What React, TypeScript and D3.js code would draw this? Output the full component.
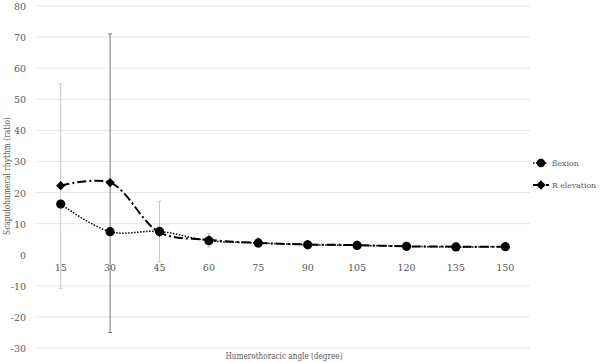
import React, { useRef, useEffect } from 'react';
import * as d3 from 'd3';

const angles = ['15', '30', '45', '60', '75', '90', '105', '120', '135', '150'];
const flexion = [16.3, 7.4, 7.5, 4.5, 3.8, 3.2, 3.0, 2.7, 2.5, 2.6];
const elevation = [22.2, 23.2, 7.2, 4.8, 3.8, 3.3, 3.1, 2.7, 2.6, 2.6];
// error bars (low, high) drawn on a few angles
const errAngles = ['15', '30', '45', '60', '75'];
const errLow = [-10.8, -25, -2.2, 2.5, 2.3];
const errHigh = [55, 71, 17.2, 6.8, 5.4];
const errColors = ['#c8c8c8', '#7a7a7a', '#c8c8c8', '#c8c8c8', '#c8c8c8'];
const yTicks = [-30, -20, -10, 0, 10, 20, 30, 40, 50, 60, 70, 80];

export default function App() {
  const ref = useRef<SVGSVGElement | null>(null);

  useEffect(() => {
    const svg = d3.select(ref.current);
    svg.selectAll('*').remove();

    const W = 600, H = 363;
    const left = 36, right = 530, top = 6, bottom = 348;
    const font = "'DejaVu Serif', serif";
    const fs = 9.5;
    const textColor = '#595959';

    const x = d3.scaleBand().domain(angles).range([left, right]);
    const cx = (a: string) => x(a)! + x.bandwidth() / 2;
    const y = d3.scaleLinear().domain([-30, 80]).range([bottom, top]);

    svg.attr('width', W).attr('height', H);

    // grid lines
    svg.append('g')
      .selectAll('line')
      .data(yTicks.filter(t => t !== 0))
      .join('line')
      .attr('x1', left).attr('x2', right)
      .attr('y1', d => y(d)).attr('y2', d => y(d))
      .attr('stroke', '#e6e6e6').attr('stroke-width', 1);

    // y tick labels
    svg.append('g')
      .selectAll('text')
      .data(yTicks)
      .join('text')
      .attr('x', 26).attr('y', d => y(d) + 4)
      .attr('text-anchor', 'end')
      .style('font-family', font)
      .attr('font-size', fs).attr('fill', textColor)
      .text(d => d);

    // x tick labels
    svg.append('g')
      .selectAll('text')
      .data(angles)
      .join('text')
      .attr('x', d => cx(d)).attr('y', y(0) + 16)
      .attr('text-anchor', 'middle')
      .style('font-family', font)
      .attr('font-size', fs).attr('fill', textColor)
      .text(d => d);

    // error bars
    const eb = svg.append('g');
    errAngles.forEach((a, i) => {
      const xp = cx(a);
      eb.append('line')
        .attr('x1', xp).attr('x2', xp)
        .attr('y1', y(errLow[i])).attr('y2', y(errHigh[i]))
        .attr('stroke', errColors[i]).attr('stroke-width', 1);
      [errLow[i], errHigh[i]].forEach(v => {
        eb.append('line')
          .attr('x1', xp - 2).attr('x2', xp + 2)
          .attr('y1', y(v)).attr('y2', y(v))
          .attr('stroke', errColors[i]).attr('stroke-width', 1);
      });
    });

    const line = d3.line<number>()
      .x((_, i) => cx(angles[i]))
      .y(d => y(d))
      .curve(d3.curveCatmullRom.alpha(0.5));

    // R elevation line (dash-dot)
    svg.append('path')
      .attr('d', line(elevation))
      .attr('fill', 'none').attr('stroke', '#000')
      .attr('stroke-width', 2)
      .attr('stroke-dasharray', '9,3,2,3');

    // flexion line (dotted)
    svg.append('path')
      .attr('d', line(flexion))
      .attr('fill', 'none').attr('stroke', '#000')
      .attr('stroke-width', 1.5)
      .attr('stroke-dasharray', '1.5,1.5');

    const diamond = d3.symbol().type(d3.symbolDiamond2).size(55);

    svg.append('g')
      .selectAll('path')
      .data(elevation)
      .join('path')
      .attr('d', diamond)
      .attr('transform', (d, i) => `translate(${cx(angles[i])},${y(d)})`)
      .attr('fill', '#000');

    svg.append('g')
      .selectAll('circle')
      .data(flexion)
      .join('circle')
      .attr('cx', (_, i) => cx(angles[i]))
      .attr('cy', d => y(d))
      .attr('r', 4.6)
      .attr('fill', '#000');

    // legend
    const lfs = 8;
    const lg = svg.append('g');
    lg.append('line')
      .attr('x1', 533).attr('x2', 548).attr('y1', 163).attr('y2', 163)
      .attr('stroke', '#000').attr('stroke-width', 1.5).attr('stroke-dasharray', '1.5,1.5');
    lg.append('circle').attr('cx', 541).attr('cy', 163).attr('r', 4.2).attr('fill', '#000');
    lg.append('text').attr('x', 552).attr('y', 166)
      .style('font-family', font)
      .attr('textLength', 27).attr('lengthAdjust', 'spacingAndGlyphs')
      .attr('font-size', lfs).attr('fill', textColor).text('flexion');
    lg.append('line')
      .attr('x1', 533).attr('x2', 549).attr('y1', 185).attr('y2', 185)
      .attr('stroke', '#000').attr('stroke-width', 2).attr('stroke-dasharray', '7,2,2,2');
    lg.append('path').attr('d', diamond)
      .attr('transform', 'translate(541,185)').attr('fill', '#000');
    lg.append('text').attr('x', 552).attr('y', 188)
      .style('font-family', font)
      .attr('textLength', 44).attr('lengthAdjust', 'spacingAndGlyphs')
      .attr('font-size', lfs).attr('fill', textColor).text('R elevation');

    // axis titles
    svg.append('text')
      .attr('x', 284).attr('y', 359)
      .attr('text-anchor', 'middle')
      .style('font-family', font)
      .attr('textLength', 117).attr('lengthAdjust', 'spacingAndGlyphs')
      .attr('font-size', fs).attr('fill', textColor)
      .text('Humerothoracic angle (degree)');
    svg.append('text')
      .attr('transform', `translate(10,176) rotate(-90)`)
      .attr('text-anchor', 'middle')
      .style('font-family', font)
      .attr('textLength', 118).attr('lengthAdjust', 'spacingAndGlyphs')
      .attr('font-size', fs).attr('fill', textColor)
      .text('Scapulohumeral rhythm (ratio)');
  }, []);

  return <svg ref={ref} style={{ position: 'absolute', left: 0, top: 0 }} />;
}
